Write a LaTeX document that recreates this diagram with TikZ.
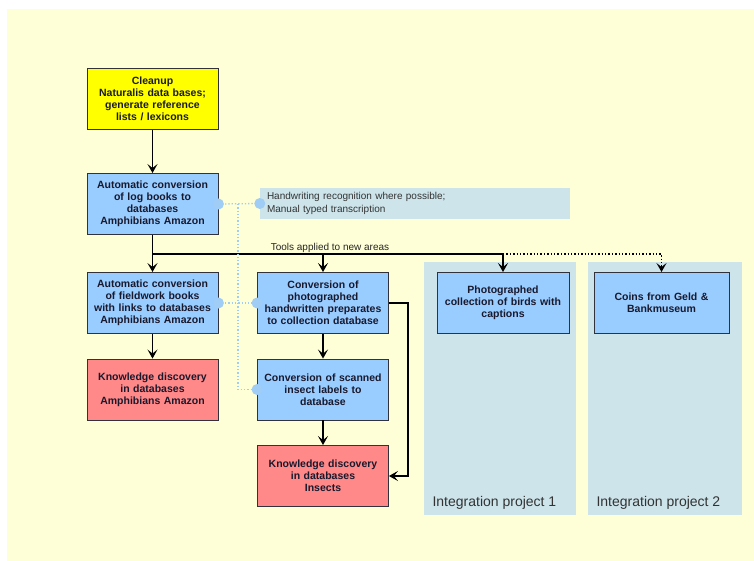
\documentclass[tikz,border=0pt]{standalone}
\usepackage{fontspec}
\setmainfont{Liberation Sans}
\usepackage{xcolor}
\usetikzlibrary{arrows.meta,calc}
\definecolor{bgyellow}{RGB}{255,255,215}
\definecolor{boxyellow}{RGB}{255,255,0}
\definecolor{boxblue}{RGB}{153,204,255}
\definecolor{boxred}{RGB}{255,136,136}
\definecolor{areablue}{RGB}{204,228,234}
\definecolor{linkblue}{RGB}{160,205,245}
\definecolor{boxtext}{RGB}{25,25,45}
\definecolor{boxline}{RGB}{50,50,60}

\begin{document}
\begin{tikzpicture}[x=1pt,y=-1pt,
	box/.style={draw=boxline,line width=0.9pt,minimum width=131pt,minimum height=61pt,text width=129pt,align=center,inner sep=0pt,font=\fontsize{10.5}{12}\selectfont\bfseries,text=boxtext},
	area/.style={fill=areablue,minimum width=152pt,minimum height=253pt,inner sep=0pt},
	flow/.style={line width=1.4pt,-{Stealth[length=9pt,width=10pt,inset=4pt]}},
	link/.style={linkblue,line width=1.3pt,dotted}]
	\useasboundingbox (0,0) rectangle (754,561);
	\fill[white] (0,0) rectangle (754,561);
	\fill[bgyellow] (7,9) rectangle (754,561);
	\node[area] (proj1) at (500,388.5) {};
	\node[area,minimum width=154pt] (proj2) at (665,388.5) {};
	\node[anchor=base west,font=\fontsize{14}{16}\selectfont,text=black!80] (proj1label) at (429,506) {Integration project 1};
	\node[anchor=base west,font=\fontsize{14}{16}\selectfont,text=black!80] (proj2label) at (593,506) {Integration project 2};
	\node[fill=areablue,minimum width=310pt,minimum height=31pt,text width=296pt,align=left,inner xsep=7pt,inner ysep=0pt,font=\fontsize{10}{13}\selectfont,text=black!80] (note) at (415,203.5) {Handwriting recognition where possible;\\Manual typed transcription};
	\node[box,fill=boxyellow] (cleanup) at (152.5,99) {Cleanup\\Naturalis data bases;\\generate reference\\lists / lexicons};
	\node[box,fill=boxblue] (logbooks) at (152.5,204) {Automatic conversion\\of log books to\\databases\\Amphibians Amazon};
	\node[box,fill=boxblue] (fieldwork) at (152.5,303) {Automatic conversion\\of fieldwork books\\with links to databases\\Amphibians Amazon};
	\node[box,fill=boxred] (kdamph) at (152.5,389.5) {Knowledge discovery\\in databases\\Amphibians Amazon};
	\node[box,fill=boxblue] (photohand) at (323,303) {Conversion of\\photographed\\handwritten preparates\\to collection database};
	\node[box,fill=boxblue] (scanned) at (323,389.5) {Conversion of scanned\\insect labels to\\database};
	\node[box,fill=boxred] (kdins) at (323,476) {Knowledge discovery\\in databases\\Insects};
	\node[box,fill=boxblue,minimum width=132pt] (birds) at (503,303) {Photographed\\collection of birds with\\captions};
	\node[box,fill=boxblue,minimum width=135pt] (coins) at (661.5,303) {Coins from Geld \&\\Bankmuseum};
	\node[anchor=base,font=\fontsize{10}{12}\selectfont,text=black!85] (tools) at (330,251) {Tools applied to new areas};
	\coordinate (split) at (152.5,254);
	\coordinate (hub) at (238,204);
	\draw[flow] (cleanup) -- (logbooks);
	\draw[flow] (logbooks) -- (fieldwork);
	\draw[flow] (fieldwork) -- (kdamph);
	\draw[flow] (photohand) -- (scanned);
	\draw[flow] (scanned) -- (kdins);
	\draw[line width=1.4pt] (split) -- (split -| birds);
	\draw[flow] (split -| photohand) -- (photohand);
	\draw[flow] (split -| birds) -- (birds);
	\draw[flow,dotted] (split -| birds) -- (split -| coins) -- (coins.north);
	\draw[flow] (photohand.east) -- ++(19,0) |- (kdins.east);
	\draw[link] (logbooks.east) -- (note.west);
	\draw[link] (hub) |- (scanned.west);
	\draw[link] (fieldwork.east) -- (photohand.west);
	\foreach \p in {logbooks.east,note.west,fieldwork.east,photohand.west,scanned.west}
		\fill[linkblue] (\p) circle (5.5pt);
\end{tikzpicture}
\end{document}
